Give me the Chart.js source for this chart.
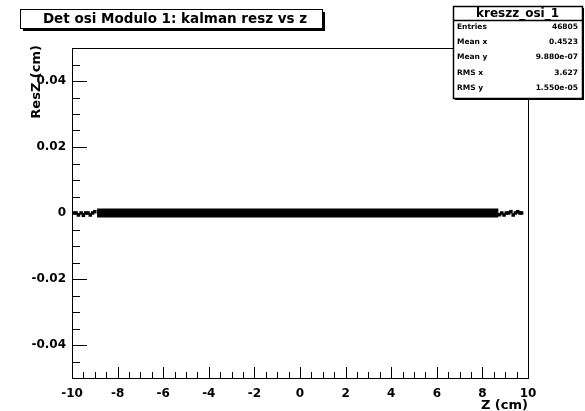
<!DOCTYPE html>
<html>
<head>
<meta charset="utf-8">
<script src="https://cdn.jsdelivr.net/npm/chart.js@4/dist/chart.umd.min.js"></script>
<style>
  html, body { margin: 0; padding: 0; background: #fff; }
  canvas { display: block; }
</style>
</head>
<body>
<canvas id="c" width="585" height="411"></canvas>
<script>
// ---- text ----
const chartTitle = 'Det osi Modulo 1: kalman resz vs z';
const xAxisTitle = 'Z (cm)';
const yAxisTitle = 'ResZ (cm)';

// ---- axes ----
const xRange = [-10, 10];
const yRange = [-0.05, 0.05];
const xTickValues = [-10, -8, -6, -4, -2, 0, 2, 4, 6, 8, 10];
const yTickValues = [-0.04, -0.02, 0, 0.02, 0.04];
const xMinorStep = 0.5;
const yMinorStep = 0.005;

// ---- residuals ----
// dense core of the distribution: a solid band between these z values
const bandZ = [-8.9, 8.7];
const bandRes = [0, 0];
// sparser points at both ends of the module
const tailZ = [-9.92, -9.82, -9.72, -9.6, -9.5, -9.4, -9.3, -9.2, -9.1, -9.0,
               8.75, 8.85, 8.95, 9.05, 9.15, 9.25, 9.35, 9.45, 9.55, 9.65, 9.72];
const tailRes = [0, 0, -0.0006, 0, -0.0007, 0, 0, -0.0006, 0, 0.0004,
                 -0.0005, 0, -0.0006, 0, 0, 0.0004, -0.0006, 0, 0.0004, 0, 0];

// ---- statistics box ----
const statsName = 'kreszz_osi_1';
const statLabels = ['Entries', 'Mean x', 'Mean y', 'RMS x', 'RMS y'];
const statValues = ['46805', '0.4523', '9.880e-07', '3.627', '1.550e-05'];

const FONT = '"DejaVu Sans", "Liberation Sans", sans-serif';

function toPoints(xs, ys) { return xs.map((x, i) => ({ x: x, y: ys[i] })); }

function minorValues(lo, hi, step) {
  const out = [];
  const n = Math.round((hi - lo) / step);
  for (let i = 0; i <= n; i++) out.push(+(lo + i * step).toFixed(6));
  return out;
}

// frame, inward ticks, titles and statistics box
const rootStyle = {
  id: 'rootStyle',
  afterDraw(chart) {
    const { ctx, chartArea: a, scales } = chart;
    const xs = scales.x, ys = scales.y;
    ctx.save();
    ctx.strokeStyle = '#000';
    ctx.lineWidth = 1;
    // frame
    ctx.strokeRect(Math.round(a.left) + 0.5, Math.round(a.top) + 0.5,
                   Math.round(a.right - a.left), Math.round(a.bottom - a.top));
    ctx.beginPath();
    // x ticks (pointing up into the frame)
    const xMaj = new Set(xTickValues.map(v => v.toFixed(3)));
    minorValues(xRange[0], xRange[1], xMinorStep).forEach(v => {
      const px = Math.round(xs.getPixelForValue(v)) + 0.5;
      const len = xMaj.has(v.toFixed(3)) ? 11 : 6;
      ctx.moveTo(px, a.bottom);
      ctx.lineTo(px, a.bottom - len);
    });
    // y ticks (pointing right into the frame)
    const yMaj = new Set(yTickValues.map(v => v.toFixed(4)));
    minorValues(yRange[0], yRange[1], yMinorStep).forEach(v => {
      const py = Math.round(ys.getPixelForValue(v)) + 0.5;
      const len = yMaj.has(v.toFixed(4)) ? 15 : 8;
      ctx.moveTo(a.left, py);
      ctx.lineTo(a.left + len, py);
    });
    ctx.stroke();

    // axis titles
    ctx.fillStyle = '#000';
    ctx.font = 'bold 13px ' + FONT;
    ctx.textAlign = 'right';
    ctx.textBaseline = 'alphabetic';
    ctx.fillText(xAxisTitle, a.right, 409);
    ctx.save();
    ctx.translate(40, a.top - 3);
    ctx.rotate(-Math.PI / 2);
    ctx.textAlign = 'right';
    ctx.fillText(yAxisTitle, 0, 0);
    ctx.restore();

    // title box with shadow
    const tb = { x: 20, y: 9, w: 302, h: 19 };
    ctx.fillStyle = '#000';
    ctx.fillRect(tb.x + 3, tb.y + 3, tb.w, tb.h);
    ctx.fillStyle = '#fff';
    ctx.fillRect(tb.x, tb.y, tb.w, tb.h);
    ctx.strokeRect(tb.x + 0.5, tb.y + 0.5, tb.w, tb.h);
    ctx.fillStyle = '#000';
    ctx.font = 'bold 13.5px ' + FONT;
    ctx.textAlign = 'center';
    ctx.textBaseline = 'middle';
    ctx.fillText(chartTitle, tb.x + tb.w / 2 + 4, tb.y + tb.h / 2 + 1);

    // statistics box
    const sb = { x: 453, y: 6, w: 129, h: 92, head: 14, row: 15.2 };
    ctx.fillStyle = '#000';
    ctx.fillRect(sb.x + 2, sb.y + 2, sb.w, sb.h);
    ctx.fillStyle = '#fff';
    ctx.fillRect(sb.x, sb.y, sb.w, sb.h);
    ctx.lineWidth = 1.5;
    ctx.strokeRect(sb.x + 0.5, sb.y + 0.5, sb.w, sb.h);
    ctx.beginPath();
    ctx.moveTo(sb.x, sb.y + sb.head + 0.5);
    ctx.lineTo(sb.x + sb.w, sb.y + sb.head + 0.5);
    ctx.stroke();
    ctx.fillStyle = '#000';
    ctx.font = 'bold 12px ' + FONT;
    ctx.textAlign = 'center';
    ctx.textBaseline = 'middle';
    ctx.fillText(statsName, sb.x + sb.w / 2, sb.y + sb.head / 2 + 0.5);
    ctx.font = 'bold 7.5px ' + FONT;
    statLabels.forEach((lab, i) => {
      const y = sb.y + sb.head + sb.row * (i + 0.5) - 0.5;
      ctx.textAlign = 'left';
      ctx.fillText(lab, sb.x + 4, y);
      ctx.textAlign = 'right';
      ctx.fillText(statValues[i], sb.x + sb.w - 4, y);
    });
    ctx.restore();
  }
};

new Chart(document.getElementById('c'), {
  type: 'scatter',
  data: {
    datasets: [
      {
        type: 'line',
        data: toPoints(bandZ, bandRes),
        borderColor: '#000',
        borderWidth: 9,
        borderCapStyle: 'butt',
        pointRadius: 0,
        fill: false
      },
      {
        data: toPoints(tailZ, tailRes),
        pointStyle: 'rect',
        pointRadius: 2.5,
        backgroundColor: '#000',
        borderColor: '#000',
        borderWidth: 0
      }
    ]
  },
  plugins: [rootStyle],
  options: {
    responsive: false,
    animation: false,
    events: [],
    layout: { padding: { top: 48, right: 57, left: 0, bottom: 0 } },
    plugins: { legend: { display: false }, tooltip: { enabled: false }, title: { display: false } },
    scales: {
      x: {
        type: 'linear',
        min: xRange[0], max: xRange[1],
        afterBuildTicks: s => { s.ticks = xTickValues.map(v => ({ value: v })); },
        afterFit: s => { s.height = 33; },
        grid: { display: false, drawTicks: false },
        border: { display: false },
        ticks: {
          padding: 9,
          color: '#000',
          font: { family: FONT, size: 12, weight: 'bold' },
          maxRotation: 0,
          autoSkip: false,
          callback: v => String(v)
        }
      },
      y: {
        type: 'linear',
        min: yRange[0], max: yRange[1],
        afterBuildTicks: s => { s.ticks = yTickValues.map(v => ({ value: v })); },
        afterFit: s => { s.width = 72; },
        grid: { display: false, drawTicks: false },
        border: { display: false },
        ticks: {
          padding: 6,
          color: '#000',
          font: { family: FONT, size: 12, weight: 'bold' },
          autoSkip: false,
          callback: v => String(+v.toFixed(2))
        }
      }
    }
  }
});
</script>
</body>
</html>
